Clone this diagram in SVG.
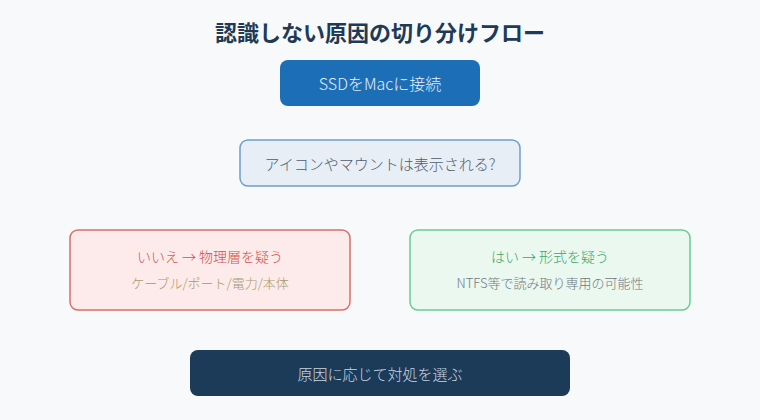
<svg xmlns="http://www.w3.org/2000/svg" width="760" height="420" viewBox="0 0 760 420">
  <style>
    text { font-family: "Noto Sans CJK JP", "Noto Sans", sans-serif; text-anchor: middle; dominant-baseline: central; font-weight: 300; }
    .title { font-size: 22px; font-weight: 700; fill: #1e3a56; }
    .t16 { font-size: 16px; }
    .t15 { font-size: 15px; }
    .t14 { font-size: 14px; }
    .t13 { font-size: 13px; }
  </style>
  <rect x="0" y="0" width="760" height="420" fill="#f7f9fb"/>
  <text class="title" x="380" y="31">認識しない原因の切り分けフロー</text>
  <g id="connectors"></g>
  <g id="node-connect">
    <rect x="280" y="60" width="200" height="46" rx="8" fill="#1c6fb6"/>
    <text class="t16" x="380" y="83" fill="#e4eef8">SSDをMacに接続</text>
  </g>
  <g id="node-question">
    <rect x="240" y="140" width="280" height="46" rx="8" fill="#e8eef5" stroke="#6d9fcf" stroke-width="1.5"/>
    <text class="t15" x="380" y="163" fill="#4d5c70">アイコンやマウントは表示される?</text>
  </g>
  <g id="node-no">
    <rect x="70" y="230" width="280" height="80" rx="8" fill="#fdeaea" stroke="#d6706a" stroke-width="1.5"/>
    <text class="t14" x="210" y="256" fill="#d0504c">いいえ → 物理層を疑う</text>
    <text class="t13" x="210" y="282" fill="#a89a6a">ケーブル/ポート/電力/本体</text>
  </g>
  <g id="node-yes">
    <rect x="410" y="230" width="280" height="80" rx="8" fill="#eaf8ef" stroke="#6acb94" stroke-width="1.5"/>
    <text class="t14" x="550" y="256" fill="#3aa567">はい → 形式を疑う</text>
    <text class="t13" x="550" y="282" fill="#6f7782">NTFS等で読み取り専用の可能性</text>
  </g>
  <g id="node-action">
    <rect x="190" y="350" width="380" height="46" rx="8" fill="#1c3b58"/>
    <text class="t15" x="380" y="373" fill="#c9d5e2">原因に応じて対処を選ぶ</text>
  </g>
</svg>
